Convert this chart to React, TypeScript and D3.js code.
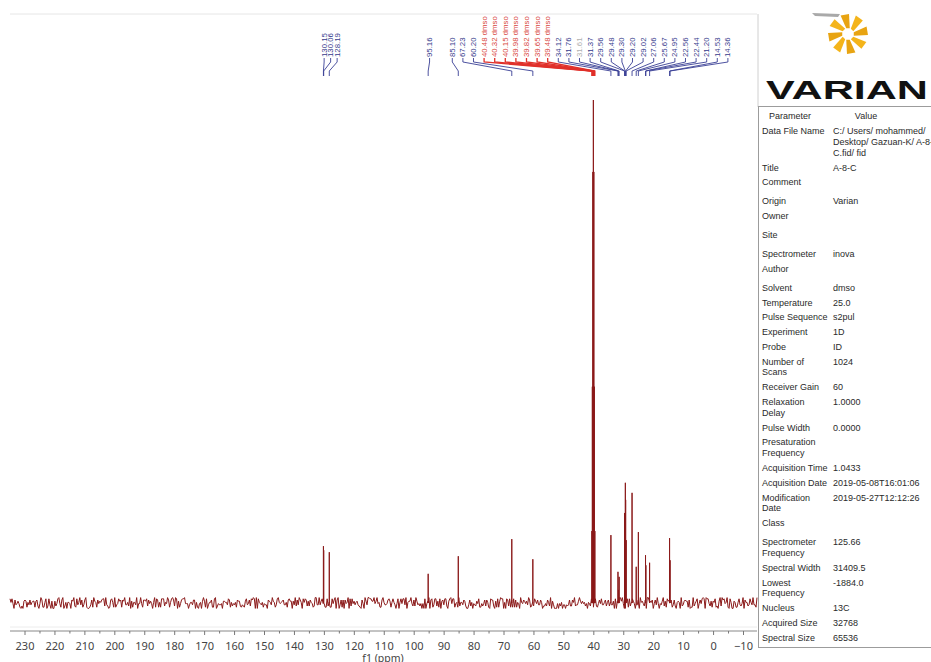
import React, { useRef, useEffect } from 'react';
import * as d3 from 'd3';

// peak positions (ppm) and heights (fraction of the solvent line)
const peakPpm = [130.15, 130.06, 128.19, 95.16, 85.1, 67.23, 60.2,
  40.48, 40.32, 40.15, 39.98, 39.82, 39.65, 39.48,
  34.12, 31.76, 31.61, 31.37, 29.56, 29.48, 29.3, 29.2, 29.02,
  27.06, 25.67, 24.95, 22.56, 22.44, 21.2, 14.53, 14.36];
const peakHeight = [0.113, 0.105, 0.101, 0.058, 0.093, 0.127, 0.087,
  0.143, 0.43, 0.857, 1.0, 0.857, 0.43, 0.143,
  0.135, 0.062, 0.026, 0.052, 0.179, 0.165, 0.239, 0.205, 0.125,
  0.219, 0.072, 0.141, 0.095, 0.075, 0.08, 0.129, 0.085];

// baseline noise, one digit per pixel column (4.5 = zero)
const noiseDigits =
  '14159265358979323846264338327950288419716939937510' +
  '58209749445923078164062862089986280348253421170679' +
  '82148086513282306647093844609550582231725359408128' +
  '48111745028410270193852110555964462294895493038196' +
  '44288109756659334461284756482337867831652712019091' +
  '45648566923460348610454326648213393607260249141273' +
  '72458700660631558817488152092096282925409171536436' +
  '78925903600113305305488204665213841469519415116094' +
  '33057270365759591953092186117381932611793105118548' +
  '07446237996274956735188575272489122793818301194912' +
  '71828182845904523536028747135266249775724709369995' +
  '95749669676277240766303535475945713821785251664274' +
  '27466391932003059921817413596629043572900334295260' +
  '59563073813232862794349076323382988075319525101901' +
  '15738341879307021540891499348841675092447614606680';

const leftLabels = ['130.15', '130.06', '128.19'];
const midLabels = ['95.16'];
const rightLabels = ['85.10', '67.23', '60.20', '40.48 dmso', '40.32 dmso', '40.15 dmso',
  '39.98 dmso', '39.82 dmso', '39.65 dmso', '39.48 dmso', '34.12', '31.76', '31.61', '31.37',
  '29.56', '29.48', '29.30', '29.20', '29.02', '27.06', '25.67', '24.95', '22.56', '22.44',
  '21.20', '14.53', '14.36'];
const greyLabels = ['31.61'];

const majorTicks = d3.range(230, -11, -10);
const minorTicks = d3.range(225, -11, -10);

const paramNames = [['Data File Name'], ['Title'], ['Comment'], ['Origin'], ['Owner'], ['Site'],
  ['Spectrometer'], ['Author'], ['Solvent'], ['Temperature'], ['Pulse Sequence'], ['Experiment'],
  ['Probe'], ['Number of', 'Scans'], ['Receiver Gain'], ['Relaxation', 'Delay'], ['Pulse Width'],
  ['Presaturation', 'Frequency'], ['Acquisition Time'], ['Acquisition Date'], ['Modification', 'Date'],
  ['Class'], ['Spectrometer', 'Frequency'], ['Spectral Width'], ['Lowest', 'Frequency'], ['Nucleus'],
  ['Acquired Size'], ['Spectral Size']];
const paramValues = [['C:/ Users/ mohammed/', 'Desktop/ Gazuan-K/ A-8-', 'C.fid/ fid'], ['A-8-C'], [],
  ['Varian'], [], [], ['inova'], [], ['dmso'], ['25.0'], ['s2pul'], ['1D'], ['ID'], ['1024'], ['60'],
  ['1.0000'], ['0.0000'], [], ['1.0433'], ['2019-05-08T16:01:06'], ['2019-05-27T12:12:26'], [],
  ['125.66'], ['31409.5'], ['-1884.0'], ['13C'], ['32768'], ['65536']];

export default function App() {
  const ref = useRef<SVGSVGElement>(null);

  useEffect(() => {
    const svg = d3.select(ref.current);
    svg.selectAll('*').remove();
    const width = 931, height = 662;
    const left = 10, right = 757;
    svg.attr('width', width).attr('height', height);

    const x = d3.scaleLinear().domain([230, -10]).range([24.5, 743]);
    const y = d3.scaleLinear().domain([0, 1]).range([603, 100]);
    const red = '#8b1a1a';

    // frame
    svg.append('rect').attr('width', width).attr('height', height).attr('fill', '#fff');
    svg.append('line').attr('x1', left).attr('x2', right).attr('y1', 14).attr('y2', 14)
      .attr('stroke', '#e6e6e6');
    svg.append('line').attr('x1', right + 1).attr('x2', right + 1).attr('y1', 14).attr('y2', 107)
      .attr('stroke', '#d0d0d0');

    // spectrum: noise samples + peak lines merged in x order
    const n = noiseDigits.length;
    const amp = 1.2;
    const pts: [number, number][] = [];
    for (let i = 0; i < n; i++) {
      const px = left + (i / (n - 1)) * (right - left);
      pts.push([px, y(0) + (+noiseDigits[i] - 4.5) * amp]);
    }
    peakPpm.forEach((p, i) => {
      const px = x(p);
      pts.push([px - 0.01, y(0)], [px, y(peakHeight[i])], [px + 0.01, y(0)]);
    });
    pts.sort((a, b) => a[0] - b[0]);
    svg.append('path')
      .attr('d', d3.line()(pts))
      .attr('fill', 'none')
      .attr('stroke', red)
      .attr('stroke-width', 1)
      .attr('stroke-linejoin', 'round');

    // axis
    svg.append('line').attr('x1', left).attr('x2', right).attr('y1', 627).attr('y2', 627)
      .attr('stroke', '#ececec');
    svg.append('line').attr('x1', left).attr('x2', right).attr('y1', 631).attr('y2', 631)
      .attr('stroke', '#888');
    const ax = svg.append('g').attr('transform', 'translate(0,631)');
    ax.call(d3.axisBottom(x).tickValues(majorTicks).tickSize(4).tickPadding(7).tickFormat(d3.format('d')));
    ax.select('.domain').remove();
    ax.selectAll('line').attr('stroke', '#777');
    ax.selectAll('text').attr('font-family', 'Noto Sans').attr('font-size', 11).attr('fill', '#444');
    const mx = svg.append('g').attr('transform', 'translate(0,631)');
    mx.call(d3.axisBottom(x).tickValues(minorTicks).tickSize(2.5).tickFormat(() => ''));
    mx.select('.domain').remove();
    mx.selectAll('line').attr('stroke', '#777');
    svg.append('text').attr('x', 383).attr('y', 662).attr('text-anchor', 'middle')
      .attr('font-family', 'Noto Sans').attr('font-size', 10.5).attr('fill', '#444').text('f1 (ppm)');

    // peak labels
    const clusters = [
      { labels: leftLabels, gap: 6.5, shift: 0.7 },
      { labels: midLabels, gap: 0, shift: 1.4 },
      { labels: rightLabels, gap: 10.6, shift: -6 },
    ];
    const lg = svg.append('g');
    clusters.forEach((c) => {
      const x0 = x(parseFloat(c.labels[0])) + c.shift;
      c.labels.forEach((t, i) => {
        const lx = x0 + i * c.gap;
        const px = x(parseFloat(t));
        const isDmso = t.includes('dmso');
        const col = isDmso ? '#d8453c' : greyLabels.includes(t) ? '#b0b0b0' : '#353a8c';
        lg.append('path')
          .attr('d', `M${lx},58 L${lx},62 L${px},71 L${px},76`)
          .attr('fill', 'none')
          .attr('stroke', isDmso ? '#e0302a' : '#3a3f95')
          .attr('stroke-width', isDmso ? 1.3 : 0.9);
        lg.append('text')
          .attr('transform', `translate(${lx},57) rotate(-90)`)
          .attr('dominant-baseline', 'central')
          .attr('font-family', 'Liberation Sans')
          .attr('font-size', 7.8)
          .attr('fill', col)
          .text(t);
      });
    });

    // Varian logo
    const logo = svg.append('g').attr('transform', 'translate(848,34)');
    logo.append('path').attr('d', 'M-36,-21 L-8,-20 L-10,-17 L-33,-18 Z').attr('fill', '#a9a9a9');
    d3.range(8).forEach((k) => {
      const a = (k * 45 - 90) * Math.PI / 180;
      const r0 = 6, r1 = 20;
      const p = [
        [r0 * Math.cos(a - 0.3), r0 * Math.sin(a - 0.3)],
        [r1 * Math.cos(a - 0.38), r1 * Math.sin(a - 0.38)],
        [r1 * Math.cos(a + 0.05), r1 * Math.sin(a + 0.05)],
        [r0 * Math.cos(a + 0.3), r0 * Math.sin(a + 0.3)],
      ];
      logo.append('path').attr('d', 'M' + p.map((q) => q.join(',')).join('L') + 'Z')
        .attr('fill', k % 2 ? '#f4b41a' : '#e8a412');
    });
    svg.append('text').attr('x', 766).attr('y', 99)
      .attr('font-family', 'Liberation Sans').attr('font-weight', 'bold').attr('font-size', 26)
      .attr('textLength', 162).attr('lengthAdjust', 'spacingAndGlyphs').attr('fill', '#111')
      .text('VARIAN');

    // parameter table
    svg.append('rect').attr('x', 758.5).attr('y', 106.5).attr('width', 180).attr('height', 541)
      .attr('fill', 'none').attr('stroke', '#9c9c9c');
    const tf = (g: any) => g.attr('font-family', 'Liberation Sans').attr('font-size', 9).attr('fill', '#2a2a2a')
      .attr('dominant-baseline', 'central');
    tf(svg.append('text').attr('x', 790).attr('y', 116).attr('text-anchor', 'middle').text('Parameter'));
    tf(svg.append('text').attr('x', 866).attr('y', 116).attr('text-anchor', 'middle').text('Value'));
    let ry = 131;
    const lineH = 10.9;
    paramNames.forEach((names, i) => {
      const vals = paramValues[i];
      names.forEach((t, j) => tf(svg.append('text').attr('x', 762).attr('y', ry + j * lineH).text(t)));
      vals.forEach((t, j) => tf(svg.append('text').attr('x', 833).attr('y', ry + j * lineH).text(t)));
      const lines = Math.max(names.length, vals.length);
      ry += lines > 1 ? 14.75 + (lines - 1) * lineH : vals.length === 0 ? 19 : 14.75;
    });
  }, []);

  return <svg ref={ref} style={{ position: 'absolute', left: 0, top: 0 }}></svg>;
}
